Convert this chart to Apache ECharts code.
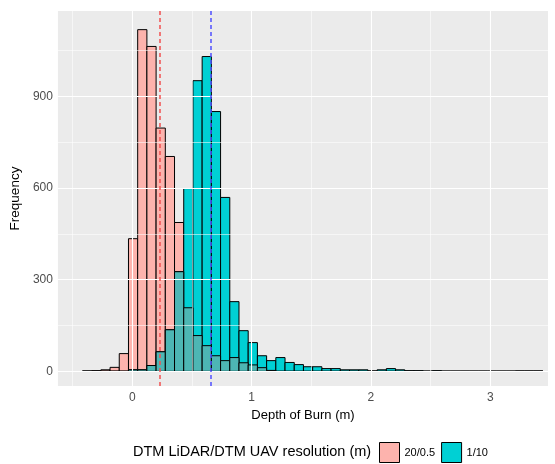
<!DOCTYPE html>
<html>
<head>
<meta charset="utf-8">
<script src="https://cdn.jsdelivr.net/npm/echarts@6/dist/echarts.min.js"></script>
<style>
  html, body { margin: 0; padding: 0; background: #fff; }
  #chart { width: 555px; height: 464px; }
</style>
</head>
<body>
<div id="chart"></div>
<script>
// histogram bins: left edge of the first bin and bin width (m)
const binStart = -0.4186;
const binWidth = 0.0772;

// counts per bin, 50 bins
const counts20 = [1, 2, 5, 13, 58, 434, 1118, 1063, 796, 703, 487, 208, 117, 84, 51, 35, 45, 28, 21, 12, 3,
    0, 0, 0, 0, 0, 0, 0, 0, 0, 0, 0, 0, 0, 0, 0, 0, 0, 0, 0, 0, 0, 0, 0, 0, 0, 0, 0, 0, 0];
const counts1 = [0, 0, 0, 0, 0,
    5, 5, 19, 64, 136, 326, 598, 951, 1030, 850,
    569, 228, 133, 94, 51, 35, 45, 29, 22, 15,
    15, 9, 9, 5, 5, 5, 1, 5, 9, 5,
    2, 2, 0, 2,
    0, 0, 0, 0, 0, 0, 0, 0,
    1, 1, 1];

const seriesNames = ['20/0.5', '1/10'];
const meanValues = [0.232, 0.658];

const xTicks = [0, 1, 2, 3];
const xMinor = [-0.5, 0.5, 1.5, 2.5];
const yTicks = [0, 300, 600, 900];
const yMinor = [150, 450, 750, 1050];

const PINK = '#FDB3AD';
const CYAN = '#00D0D4';
const TEAL = '#4DB6B4';

function toBins(values) {
    return values.map((v, i) => [binStart + i * binWidth, binStart + (i + 1) * binWidth, v]);
}

function barRenderer(color) {
    return function (params, api) {
        const p0 = api.coord([api.value(0), 0]);
        const p1 = api.coord([api.value(1), api.value(2)]);
        return {
            type: 'rect',
            shape: { x: p0[0], y: p1[1], width: p1[0] - p0[0], height: p0[1] - p1[1] },
            style: { fill: color, stroke: '#000', lineWidth: 1 }
        };
    };
}

const overlap = counts20.map((v, i) => Math.min(v, counts1[i]));

const gridLines = [];
xTicks.forEach(v => gridLines.push({ xAxis: v, lineStyle: { color: '#fff', width: 1.1, type: 'solid' } }));
xMinor.forEach(v => gridLines.push({ xAxis: v, lineStyle: { color: '#fff', width: 0.55, type: 'solid' } }));
yTicks.forEach(v => gridLines.push({ yAxis: v, lineStyle: { color: '#fff', width: 1.1, type: 'solid' } }));
yMinor.forEach(v => gridLines.push({ yAxis: v, lineStyle: { color: '#fff', width: 0.55, type: 'solid' } }));

const chart = echarts.init(document.getElementById('chart'));
const textFont = 'Liberation Sans, Arial, sans-serif';

const option = {
    animation: false,
    textStyle: { fontFamily: textFont },
    grid: {
        left: 57, right: 7, top: 11, bottom: 78,
        show: true, backgroundColor: '#EBEBEB', borderWidth: 0
    },
    xAxis: {
        type: 'value',
        min: -0.624,
        max: 3.484,
        name: 'Depth of Burn (m)',
        nameLocation: 'middle',
        nameGap: 22,
        nameTextStyle: { color: '#000', fontSize: 13, fontFamily: textFont },
        axisLine: { show: false },
        axisTick: { show: true, length: 3, customValues: xTicks, lineStyle: { color: '#333', width: 1 } },
        axisLabel: { customValues: xTicks, color: '#4D4D4D', fontSize: 12, margin: 6, fontFamily: textFont },
        splitLine: { show: false }
    },
    yAxis: {
        type: 'value',
        min: -48,
        max: 1179,
        name: 'Frequency',
        nameLocation: 'middle',
        nameGap: 28,
        nameTextStyle: { color: '#000', fontSize: 13.5, fontFamily: textFont },
        axisLine: { show: false },
        axisTick: { show: true, length: 3, customValues: yTicks, lineStyle: { color: '#333', width: 1 } },
        axisLabel: { customValues: yTicks, color: '#4D4D4D', fontSize: 12, margin: 5, fontFamily: textFont },
        splitLine: { show: false }
    },
    legend: {
        data: seriesNames,
        left: 374,
        top: 437,
        icon: 'rect',
        itemWidth: 20,
        itemHeight: 20,
        itemGap: 6,
        itemStyle: { borderColor: '#000', borderWidth: 1 },
        textStyle: { color: '#000', fontSize: 11, fontFamily: textFont }
    },
    graphic: [{
        type: 'text',
        left: 133,
        top: 444,
        style: { text: 'DTM LiDAR/DTM UAV resolution (m)', fill: '#000', fontSize: 14.5, fontFamily: textFont }
    }],
    series: [
        {
            type: 'line',
            data: [],
            z: 1,
            silent: true,
            markLine: { silent: true, symbol: 'none', label: { show: false }, animation: false, data: gridLines }
        },
        {
            name: seriesNames[0],
            type: 'custom',
            z: 2,
            itemStyle: { color: PINK },
            renderItem: barRenderer(PINK),
            encode: { x: [0, 1], y: 2 },
            data: toBins(counts20)
        },
        {
            name: seriesNames[1],
            type: 'custom',
            z: 2,
            itemStyle: { color: CYAN },
            renderItem: barRenderer(CYAN),
            encode: { x: [0, 1], y: 2 },
            data: toBins(counts1)
        },
        {
            name: 'overlap',
            type: 'custom',
            z: 2,
            renderItem: barRenderer(TEAL),
            encode: { x: [0, 1], y: 2 },
            data: toBins(overlap)
        },
        {
            type: 'line',
            data: [],
            z: 3,
            silent: true,
            markLine: {
                silent: true, symbol: 'none', label: { show: false }, animation: false,
                data: [
                    { xAxis: meanValues[0], lineStyle: { color: '#F25050', width: 1.5, type: [4, 3] } },
                    { xAxis: meanValues[1], lineStyle: { color: '#5050FF', width: 1.5, type: [4, 3] } }
                ]
            }
        }
    ]
};

chart.setOption(option);
</script>
</body>
</html>
